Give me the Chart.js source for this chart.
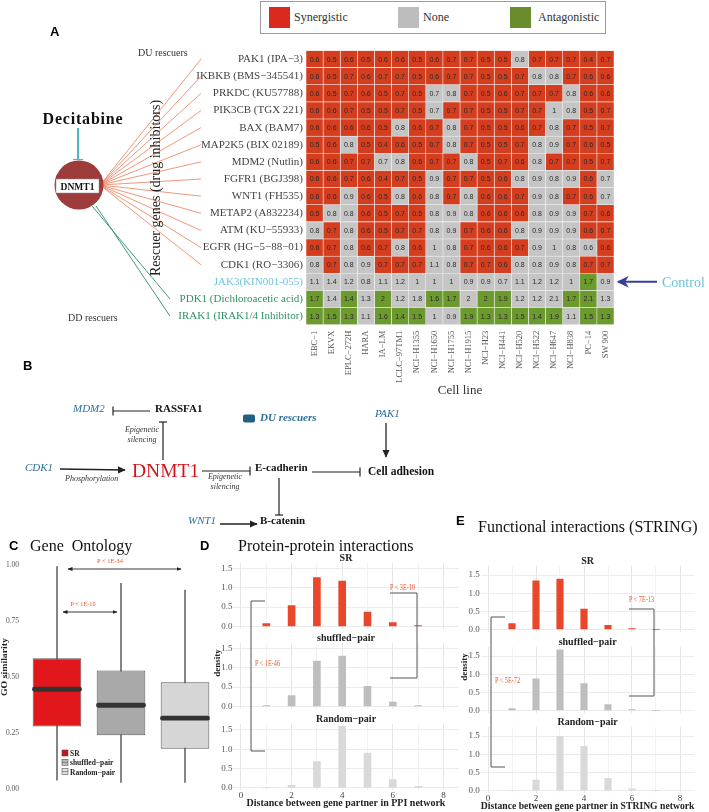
<!DOCTYPE html>
<html>
<head>
<meta charset="utf-8">
<title>DNMT1 rescuers</title>
<script src="https://cdn.jsdelivr.net/npm/chart.js@4.4.1/dist/chart.umd.min.js"></script>
<style>
  html, body { margin: 0; padding: 0; background: #fff; }
  #page { position: relative; width: 709px; height: 812px; overflow: hidden; font-family: "Liberation Serif", serif; }
  #page canvas { position: absolute; }
  #overlay { position: absolute; left: 0; top: 0; pointer-events: none; }
  #heatLegend { position: absolute; left: 260px; top: 1px; width: 346px; height: 33px; box-sizing: border-box; border: 1px solid #9c9c9c; background: #fff; }
  #heatLegend .key { position: absolute; top: 5px; width: 21px; height: 21px; }
  #heatLegend .lab { position: absolute; top: 8px; font-size: 12px; line-height: 14px; color: #333; }
</style>
</head>
<body>
<div id="page">
  <div id="heatLegend"></div>
  <canvas id="heatmap" width="709" height="403" style="left:0;top:0"></canvas>
  <canvas id="goBox" width="232" height="257" style="left:0;top:555px"></canvas>
  <canvas id="ppi0"></canvas>
  <canvas id="ppi1"></canvas>
  <canvas id="ppi2"></canvas>
  <canvas id="str0"></canvas>
  <canvas id="str1"></canvas>
  <canvas id="str2"></canvas>

  <svg id="overlay" width="709" height="812" viewBox="0 0 709 812" font-family="Liberation Serif, serif">
    <defs>
      <marker id="head" viewBox="0 0 10 10" refX="9" refY="5" markerUnits="userSpaceOnUse" markerWidth="8" markerHeight="8" orient="auto-start-reverse">
        <path d="M0,0.5 L10,5 L0,9.5 z" fill="#222"/>
      </marker>
      <marker id="headSmall" viewBox="0 0 10 10" refX="9" refY="5" markerUnits="userSpaceOnUse" markerWidth="5" markerHeight="5" orient="auto-start-reverse">
        <path d="M0,1 L10,5 L0,9 z" fill="#222"/>
      </marker>
      <marker id="headCtl" viewBox="0 0 10 10" refX="9" refY="5" markerUnits="userSpaceOnUse" markerWidth="12" markerHeight="12" orient="auto-start-reverse">
        <path d="M0,0 L10,5 L0,10 L3,5 z" fill="#3B3B98"/>
      </marker>
    </defs>

    <!-- panel A, network side -->
    <text x="50" y="36" font-family="Liberation Sans, Arial, sans-serif" font-weight="bold" font-size="13">A</text>
    <text x="138" y="56" font-size="10" fill="#333">DU rescuers</text>
    <text x="68" y="321" font-size="10" fill="#333">DD rescuers</text>
    <text x="83" y="124" text-anchor="middle" font-weight="bold" font-size="16" letter-spacing="0.8" fill="#111">Decitabine</text>
    <line x1="78" y1="128" x2="78" y2="159" stroke="#4FB5BE" stroke-width="2"/>
    <line x1="73" y1="159.5" x2="83" y2="159.5" stroke="#4FB5BE" stroke-width="1.2"/>
    <g id="fan"></g>
    <circle cx="79" cy="185" r="24.5" fill="#9E3C3C"/>
    <rect x="56" y="179" width="43" height="14" fill="#fff" stroke="#888" stroke-width="0.5"/>
    <text x="77.5" y="190" text-anchor="middle" font-weight="bold" font-size="9.5" fill="#111">DNMT1</text>
    <text transform="translate(160,188) rotate(-90)" text-anchor="middle" font-size="14" fill="#222">Rescuer genes (drug inhibitors)</text>
    <g id="control"></g>

    <!-- panel B -->
    <text x="23" y="370" font-family="Liberation Sans, Arial, sans-serif" font-weight="bold" font-size="13">B</text>
    <text x="73" y="412" font-style="italic" font-size="11" fill="#2D6F99">MDM2</text>
    <line x1="113" y1="411" x2="150" y2="411" stroke="#222" stroke-width="1.2"/>
    <line x1="113" y1="406.5" x2="113" y2="415.5" stroke="#222" stroke-width="1.2"/>
    <text x="155" y="412" font-weight="bold" font-size="11" fill="#111">RASSFA1</text>
    <line x1="163" y1="460" x2="163" y2="422" stroke="#222" stroke-width="1.2"/>
    <line x1="159" y1="422" x2="167" y2="422" stroke="#222" stroke-width="1.2"/>
    <text x="142" y="432" text-anchor="middle" font-style="italic" font-size="8" fill="#333">Epigenetic</text>
    <text x="142" y="442" text-anchor="middle" font-style="italic" font-size="8" fill="#333">silencing</text>
    <rect x="243" y="414.5" width="12" height="8" rx="2" fill="#1F5F80"/>
    <text x="260" y="421" font-style="italic" font-weight="bold" font-size="11" fill="#2D6F99">DU rescuers</text>
    <text x="375" y="417" font-style="italic" font-size="11" fill="#2D6F99">PAK1</text>
    <line x1="386" y1="423" x2="386" y2="457" stroke="#222" stroke-width="1.3" marker-end="url(#head)"/>
    <text x="25" y="471" font-style="italic" font-size="11" fill="#2D6F99">CDK1</text>
    <line x1="60" y1="469" x2="125" y2="470" stroke="#222" stroke-width="1.3" marker-end="url(#head)"/>
    <text x="65" y="481" font-style="italic" font-size="8" fill="#333">Phosphorylation</text>
    <text x="132" y="477" font-size="19.5" fill="#D4141A">DNMT1</text>
    <line x1="202" y1="471" x2="250" y2="471" stroke="#222" stroke-width="1.2"/>
    <line x1="250" y1="466.5" x2="250" y2="475.5" stroke="#222" stroke-width="1.2"/>
    <text x="225" y="479" text-anchor="middle" font-style="italic" font-size="8" fill="#333">Epigenetic</text>
    <text x="225" y="489" text-anchor="middle" font-style="italic" font-size="8" fill="#333">silencing</text>
    <text x="255" y="471" font-weight="bold" font-size="11" fill="#111">E-cadherin</text>
    <line x1="312" y1="472" x2="360" y2="472" stroke="#222" stroke-width="1.2"/>
    <line x1="360" y1="467.5" x2="360" y2="476.5" stroke="#222" stroke-width="1.2"/>
    <text x="368" y="475" font-weight="bold" font-size="11.5" fill="#111">Cell adhesion</text>
    <line x1="279" y1="478" x2="279" y2="515" stroke="#222" stroke-width="1.2"/>
    <line x1="275" y1="515" x2="283" y2="515" stroke="#222" stroke-width="1.2"/>
    <text x="188" y="524" font-style="italic" font-size="11" fill="#2D6F99">WNT1</text>
    <line x1="220" y1="524" x2="257" y2="524" stroke="#222" stroke-width="1.3" marker-end="url(#head)"/>
    <text x="260" y="524" font-weight="bold" font-size="11" fill="#111">B-catenin</text>

    <!-- panel titles -->
    <text x="9" y="550" font-family="Liberation Sans, Arial, sans-serif" font-weight="bold" font-size="13">C</text>
    <text x="30" y="551" font-size="16" fill="#111" xml:space="preserve">Gene  Ontology</text>
    <text x="200" y="550" font-family="Liberation Sans, Arial, sans-serif" font-weight="bold" font-size="13">D</text>
    <text x="238" y="551" font-size="16" fill="#111">Protein-protein interactions</text>
    <text x="456" y="525" font-family="Liberation Sans, Arial, sans-serif" font-weight="bold" font-size="13">E</text>
    <text x="478" y="532" font-size="16" fill="#111">Functional interactions (STRING)</text>

    <!-- panel C annotations -->
    <text transform="translate(7,667) rotate(-90)" text-anchor="middle" font-weight="bold" font-size="9" fill="#222" textLength="58" lengthAdjust="spacingAndGlyphs">GO similarity</text>
    <text x="110" y="563" text-anchor="middle" font-size="7" fill="#E4572E" textLength="26" lengthAdjust="spacingAndGlyphs">P &lt; 1E-34</text>
    <line x1="68" y1="569" x2="181" y2="569" stroke="#222" stroke-width="0.9" marker-start="url(#headSmall)" marker-end="url(#headSmall)"/>
    <text x="83" y="606" text-anchor="middle" font-size="7" fill="#E4572E" textLength="25" lengthAdjust="spacingAndGlyphs">P &lt; 1E-10</text>
    <line x1="63" y1="612" x2="117" y2="612" stroke="#222" stroke-width="0.9" marker-start="url(#headSmall)" marker-end="url(#headSmall)"/>
    <g id="goLegend" font-weight="bold" font-size="7.5" fill="#222"></g>

    <!-- panels D and E annotations -->
    <text transform="translate(220,663) rotate(-90)" text-anchor="middle" font-weight="bold" font-size="9" fill="#222">density</text>
    <text transform="translate(467,667) rotate(-90)" text-anchor="middle" font-weight="bold" font-size="9" fill="#222">density</text>
    <path d="M265,601 H251 V751 H265" fill="none" stroke="#555" stroke-width="1"/>
    <text x="267.5" y="666" text-anchor="middle" font-size="7.5" fill="#E4572E" textLength="25" lengthAdjust="spacingAndGlyphs">P &lt; 1E-46</text>
    <path d="M390,593 H417 V678 H390" fill="none" stroke="#555" stroke-width="1"/>
    <text x="402.5" y="590" text-anchor="middle" font-size="7.5" fill="#E4572E" textLength="25" lengthAdjust="spacingAndGlyphs">P &lt; 3E-10</text>
    <path d="M505,617 H491 V767 H505" fill="none" stroke="#555" stroke-width="1"/>
    <text x="507.5" y="683" text-anchor="middle" font-size="7.5" fill="#E4572E" textLength="25" lengthAdjust="spacingAndGlyphs">P &lt; 5E-72</text>
    <path d="M629,609 H654 V696 H629" fill="none" stroke="#555" stroke-width="1"/>
    <text x="641.5" y="602" text-anchor="middle" font-size="7.5" fill="#E4572E" textLength="25" lengthAdjust="spacingAndGlyphs">P &lt; 7E-13</text>
  </svg>
</div>

<script>
// ---- data ----
const cellLines = ['EBC−1', 'EKVX', 'EPLC−272H', 'HARA', 'IA−LM', 'LCLC−97TM1', 'NCI−H1355', 'NCI−H1650',
  'NCI−H1755', 'NCI−H1915', 'NCI−H23', 'NCI−H441', 'NCI−H520', 'NCI−H522', 'NCI−H647', 'NCI−H838', 'PC−14', 'SW 900'];

const rescuers = ['PAK1 (IPA−3)', 'IKBKB (BMS−345541)', 'PRKDC (KU57788)', 'PIK3CB (TGX 221)', 'BAX (BAM7)',
  'MAP2K5 (BIX 02189)', 'MDM2 (Nutlin)', 'FGFR1 (BGJ398)', 'WNT1 (FH535)', 'METAP2 (A832234)', 'ATM (KU−55933)',
  'EGFR (HG−5−88−01)', 'CDK1 (RO−3306)', 'JAK3(KIN001-055)', 'PDK1 (Dichloroacetic acid)', 'IRAK1 (IRAK1/4 Inhibitor)'];

// combination index, one row per rescuer, one column per cell line
const cellValues = [
  [0.6, 0.5, 0.6, 0.5, 0.6, 0.6, 0.5, 0.6, 0.7, 0.7, 0.5, 0.5, 0.8, 0.7, 0.7, 0.7, 0.4, 0.7],
  [0.6, 0.5, 0.7, 0.6, 0.7, 0.7, 0.5, 0.6, 0.7, 0.7, 0.5, 0.5, 0.7, 0.8, 0.8, 0.7, 0.6, 0.6],
  [0.6, 0.5, 0.7, 0.6, 0.5, 0.7, 0.5, 0.7, 0.8, 0.7, 0.5, 0.6, 0.7, 0.7, 0.7, 0.8, 0.6, 0.6],
  [0.6, 0.6, 0.7, 0.5, 0.5, 0.7, 0.5, 0.7, 0.7, 0.7, 0.5, 0.5, 0.7, 0.7, 1, 0.8, 0.5, 0.7],
  [0.6, 0.6, 0.6, 0.6, 0.5, 0.8, 0.6, 0.7, 0.8, 0.7, 0.5, 0.5, 0.6, 0.7, 0.8, 0.7, 0.5, 0.7],
  [0.5, 0.6, 0.8, 0.5, 0.4, 0.6, 0.5, 0.7, 0.8, 0.7, 0.5, 0.5, 0.7, 0.8, 0.9, 0.7, 0.6, 0.5],
  [0.6, 0.6, 0.7, 0.7, 0.7, 0.8, 0.6, 0.7, 0.7, 0.8, 0.5, 0.7, 0.6, 0.8, 0.7, 0.7, 0.5, 0.7],
  [0.6, 0.6, 0.7, 0.6, 0.4, 0.7, 0.5, 0.9, 0.7, 0.7, 0.5, 0.6, 0.8, 0.9, 0.8, 0.9, 0.6, 0.7],
  [0.6, 0.6, 0.9, 0.6, 0.5, 0.8, 0.6, 0.8, 0.7, 0.8, 0.6, 0.6, 0.7, 0.9, 0.8, 0.7, 0.6, 0.7],
  [0.5, 0.8, 0.8, 0.6, 0.5, 0.7, 0.5, 0.8, 0.9, 0.8, 0.6, 0.6, 0.6, 0.8, 0.9, 0.9, 0.7, 0.6],
  [0.8, 0.7, 0.8, 0.6, 0.5, 0.7, 0.7, 0.8, 0.9, 0.7, 0.6, 0.6, 0.8, 0.9, 0.9, 0.9, 0.6, 0.7],
  [0.6, 0.7, 0.8, 0.6, 0.7, 0.8, 0.6, 1, 0.8, 0.7, 0.6, 0.6, 0.7, 0.9, 1, 0.8, 0.6, 0.6],
  [0.8, 0.7, 0.8, 0.9, 0.7, 0.7, 0.7, 1.1, 0.8, 0.7, 0.7, 0.6, 0.8, 0.8, 0.9, 0.8, 0.7, 0.7],
  [1.1, 1.4, 1.2, 0.8, 1.1, 1.2, 1, 1, 1, 0.9, 0.9, 0.7, 1.1, 1.2, 1.2, 1, 1.7, 0.9],
  [1.7, 1.4, 1.4, 1.3, 2, 1.2, 1.8, 1.6, 1.7, 2, 2, 1.9, 1.2, 1.2, 2.1, 1.7, 2.1, 1.3],
  [1.3, 1.5, 1.3, 1.1, 1.6, 1.4, 1.5, 1, 0.9, 1.9, 1.3, 1.3, 1.5, 1.4, 1.9, 1.1, 1.5, 1.3]
];

// S = synergistic, N = none, A = antagonistic
const cellEffect = [
  'SSSSSSSSSSSSNSSSSS',
  'SSSSSSSSSSSSSNNSSS',
  'SSSSSSSNNSSSSSSNSS',
  'SSSSSSSNSSSSSSNNSS',
  'SSSSSNSSNSSSSSNSSS',
  'SSNSSSSSNSSSSNNSSS',
  'SSSSNNSSSNSSSNSSSS',
  'SSSSSSSNSSSSNNNNSN',
  'SSNSSNSNSNSSSNNSSN',
  'SNNSSSSNNNSSSNNNSS',
  'NSNSSSSNNSSSNNNNSS',
  'SSNSSNSNNSSSSNNNNS',
  'NSNNSSSNNSSSNNNNSS',
  'NNNNNNNNNNNNNNNNAN',
  'ANANANNAANAANNNAAN',
  'AAANAAANNAAAAAANAA'
];
const effectNames = ['Synergistic', 'None', 'Antagonistic'];

// gene ontology similarity box plots
const goGroups = ['SR', 'shuffled−pair', 'Random−pair'];
const goLow = [0.04, 0.03, 0.03];
const goQ1 = [0.28, 0.24, 0.18];
const goMedian = [0.446, 0.375, 0.317];
const goQ3 = [0.585, 0.53, 0.478];
const goHigh = [0.995, 0.92, 0.89];
const goTicks = [0, 0.25, 0.5, 0.75, 1];

// distance histograms (density)
const distances = [1, 2, 3, 4, 5, 6, 7];
const ppiSR = [0.07, 0.54, 1.27, 1.18, 0.37, 0.10, 0.02];
const ppiShuffled = [0.02, 0.28, 1.18, 1.31, 0.52, 0.11, 0.02];
const ppiRandom = [0, 0.07, 0.68, 1.59, 0.90, 0.22, 0.04];
const stringSR = [0.16, 1.34, 1.39, 0.56, 0.11, 0.02, 0];
const stringShuffled = [0.05, 0.87, 1.67, 0.74, 0.16, 0.02, 0];
const stringRandom = [0, 0.29, 1.49, 1.22, 0.34, 0.05, 0.01];
const densityTicks = [0, 0.5, 1.0, 1.5];
const distanceTicks = [0, 2, 4, 6, 8];
const facetNames = ['SR', 'shuffled−pair', 'Random−pair'];

// ---- styling ----
const SERIF = '"Liberation Serif", "DejaVu Serif", serif';
const SANS = '"Liberation Sans", Arial, sans-serif';
const effectColor = { S: '#D53D1F', N: '#C5C5C5', A: '#6D9A2F' };
const legendColor = ['#DA2A1E', '#BDBDBD', '#6A8C2C'];
const facetColors = ['#E8472C', '#BEBEBE', '#D9D9D9'];
const SVGNS = 'http://www.w3.org/2000/svg';

function svgEl(parent, tag, attrs, text) {
  const el = document.createElementNS(SVGNS, tag);
  Object.keys(attrs).forEach(k => el.setAttribute(k, attrs[k]));
  if (text) el.textContent = text;
  parent.appendChild(el);
  return el;
}

function rowLabelColor(r) {
  const name = rescuers[r] || '';
  if (name.startsWith('JAK3')) return '#6EC3DC';
  if (name.startsWith('PDK1') || name.startsWith('IRAK1')) return '#2E9360';
  return '#444';
}

// ---- heatmap legend ----
function buildHeatLegend() {
  const box = document.getElementById('heatLegend');
  const keyX = [8, 137, 249];
  const labX = [33, 162, 277];
  effectNames.forEach((name, i) => {
    const key = document.createElement('div');
    key.className = 'key';
    key.style.left = keyX[i] + 'px';
    key.style.background = legendColor[i];
    box.appendChild(key);
    const lab = document.createElement('div');
    lab.className = 'lab';
    lab.style.left = labX[i] + 'px';
    lab.textContent = name;
    box.appendChild(lab);
  });
}

// ---- heatmap ----
const cellText = {
  id: 'cellText',
  afterDatasetsDraw(chart) {
    const ctx = chart.ctx;
    ctx.save();
    ctx.font = '7px ' + SANS;
    ctx.fillStyle = '#2a2a2a';
    ctx.textAlign = 'center';
    ctx.textBaseline = 'middle';
    chart.data.datasets.forEach((ds, c) => {
      chart.getDatasetMeta(c).data.forEach((bar, r) => {
        ctx.fillText(String(cellValues[r][c]), (bar.x + bar.base) / 2, bar.y + 0.5);
      });
    });
    ctx.restore();
  }
};

function loadHeatmap() {
  const datasets = cellLines.map((line, c) => ({
    label: line,
    data: rescuers.map(() => 1),
    backgroundColor: rescuers.map((_, r) => effectColor[cellEffect[r][c]]),
    borderColor: '#f4f4f4',
    borderWidth: 0.6,
    borderSkipped: false,
    barPercentage: 1,
    categoryPercentage: 1
  }));

  return new Chart(document.getElementById('heatmap'), {
    type: 'bar',
    data: { labels: rescuers, datasets: datasets },
    options: {
      indexAxis: 'y',
      responsive: false,
      animation: false,
      layout: { padding: { top: 50.5, right: 95, left: 0, bottom: 0 } },
      plugins: { legend: { display: false }, tooltip: { enabled: false } },
      scales: {
        y: {
          type: 'category',
          stacked: true,
          grid: { display: false, drawTicks: false },
          border: { display: false },
          ticks: {
            autoSkip: false,
            padding: 3,
            font: { family: SERIF, size: 11 },
            color: ctx => rowLabelColor(ctx.index)
          },
          afterFit: axis => { axis.width = 306; }
        },
        x: {
          type: 'linear',
          stacked: true,
          min: 0,
          max: cellLines.length,
          grid: { display: false, drawTicks: false },
          border: { display: false },
          afterBuildTicks: axis => { axis.ticks = cellLines.map((_, i) => ({ value: i + 0.5 })); },
          ticks: {
            autoSkip: false,
            minRotation: 90,
            maxRotation: 90,
            padding: 6,
            font: { family: SERIF, size: 8.5 },
            color: '#555',
            callback: (v, i) => cellLines[i]
          },
          title: {
            display: true,
            text: 'Cell line',
            font: { family: SERIF, size: 13 },
            color: '#333',
            padding: { top: 0, bottom: 5 }
          },
          afterFit: axis => { axis.height = 78.3; }
        }
      }
    },
    plugins: [cellText]
  });
}

function drawNetwork(chart) {
  const yScale = chart.scales.y;
  const fan = document.getElementById('fan');
  rescuers.forEach((name, r) => {
    const y = yScale.getPixelForValue(r);
    if (rowLabelColor(r) === '#444') {
      svgEl(fan, 'line', { x1: 100, y1: 185, x2: 201, y2: y, stroke: '#EE8B6B', 'stroke-width': 0.9 });
    } else if (rowLabelColor(r) === '#2E9360') {
      const sx = r === 14 ? 92 : 96;
      svgEl(fan, 'line', { x1: sx, y1: 206, x2: 170, y2: y, stroke: '#2E8E68', 'stroke-width': 0.9 });
    } else {
      const ctl = document.getElementById('control');
      svgEl(ctl, 'line', { x1: 657, y1: y, x2: 618, y2: y, stroke: '#3B3B98', 'stroke-width': 2, 'marker-end': 'url(#headCtl)' });
      svgEl(ctl, 'text', { x: 662, y: y + 5, 'font-size': 14, fill: '#6EC3DC' }, 'Control');
    }
  });
}

// ---- gene ontology box plot ----
function loadBoxPlot() {
  const boxColors = ['#E2171C', '#A9A9A9', '#D6D6D6'];
  return new Chart(document.getElementById('goBox'), {
    type: 'bar',
    data: {
      labels: goGroups,
      datasets: [
        {
          data: goGroups.map((g, i) => [goLow[i], goHigh[i]]),
          backgroundColor: '#6b6b6b',
          barThickness: 1,
          grouped: false,
          order: 3
        },
        {
          data: goGroups.map((g, i) => [goQ1[i], goQ3[i]]),
          backgroundColor: boxColors,
          borderColor: '#5a5a5a',
          borderWidth: 1,
          borderSkipped: false,
          barPercentage: 0.76,
          categoryPercentage: 1,
          grouped: false,
          order: 2
        },
        {
          data: goGroups.map((g, i) => [goMedian[i] - 0.011, goMedian[i] + 0.011]),
          backgroundColor: '#333',
          borderRadius: 3,
          borderSkipped: false,
          barPercentage: 0.78,
          categoryPercentage: 1,
          grouped: false,
          order: 1
        }
      ]
    },
    options: {
      responsive: false,
      animation: false,
      layout: { padding: { top: 10, right: 15, bottom: 23, left: 0 } },
      plugins: { legend: { display: false }, tooltip: { enabled: false } },
      scales: {
        x: { display: false },
        y: {
          min: 0,
          max: 1,
          grid: { display: false, drawTicks: false },
          border: { display: false },
          afterBuildTicks: axis => { axis.ticks = goTicks.map(v => ({ value: v })); },
          ticks: {
            padding: 6,
            font: { family: SERIF, size: 7.5 },
            color: '#555',
            callback: v => v.toFixed(2)
          },
          afterFit: axis => { axis.width = 25; }
        }
      }
    }
  });
}

function buildGoLegend() {
  const g = document.getElementById('goLegend');
  const fills = ['#C0171C', '#BDBDBD', '#E2E2E2'];
  goGroups.forEach((name, i) => {
    const y = 750 + i * 9.3;
    svgEl(g, 'rect', { x: 62, y: y, width: 6, height: 6, fill: fills[i], stroke: '#555', 'stroke-width': 0.6 });
    if (i > 0) svgEl(g, 'line', { x1: 62, y1: y + 3, x2: 68, y2: y + 3, stroke: '#555', 'stroke-width': 0.6 });
    svgEl(g, 'text', { x: 70, y: y + 6 }, name);
  });
}

// ---- faceted distance histograms ----
function loadFacet(canvasId, geom, k, values) {
  const zero = geom.zeros[k];
  const isBottom = k === 2;
  const chartTop = zero - geom.yMax * geom.ppu;
  const chartBottom = zero - geom.yMin * geom.ppu;
  const chartLeft = geom.zeroX + geom.xMin * geom.ppx;
  const chartRight = geom.zeroX + geom.xMax * geom.ppx;
  const top = Math.round(chartTop - 11);
  const height = isBottom ? 812 - top : Math.round(chartBottom + 6 - top);
  const width = Math.round(chartRight + 4 - geom.canvasLeft);

  const cv = document.getElementById(canvasId);
  cv.width = width;
  cv.height = height;
  cv.style.left = geom.canvasLeft + 'px';
  cv.style.top = top + 'px';

  const gridSteps = [];
  for (let v = 0; v <= distanceTicks[distanceTicks.length - 1]; v++) gridSteps.push(v);

  return new Chart(cv, {
    type: 'bar',
    data: {
      datasets: [{
        data: distances.map((d, i) => ({ x: d, y: values[i] })),
        backgroundColor: facetColors[k],
        barThickness: geom.barW
      }]
    },
    options: {
      responsive: false,
      animation: false,
      layout: {
        padding: {
          top: 0,
          left: 0,
          right: width - (chartRight - geom.canvasLeft),
          bottom: isBottom ? 0 : height - (chartBottom - top)
        }
      },
      plugins: {
        legend: { display: false },
        tooltip: { enabled: false },
        title: {
          display: true,
          text: facetNames[k],
          fullSize: false,
          color: '#222',
          font: { family: SERIF, size: 10, weight: 'bold', lineHeight: 1 },
          padding: { top: 1, bottom: 0 }
        }
      },
      scales: {
        x: {
          type: 'linear',
          min: geom.xMin,
          max: geom.xMax,
          offset: false,
          grid: {
            offset: false,
            drawTicks: false,
            color: ctx => (ctx.tick && ctx.tick.value % 2 === 0) ? '#E6E6E6' : '#F2F2F2'
          },
          border: { display: false },
          afterBuildTicks: axis => { axis.ticks = gridSteps.map(v => ({ value: v })); },
          ticks: {
            display: isBottom,
            autoSkip: false,
            maxRotation: 0,
            padding: 0,
            font: { family: SERIF, size: 9 },
            color: '#444',
            callback: v => distanceTicks.includes(v) ? String(v) : ''
          },
          title: {
            display: isBottom,
            text: geom.title,
            color: '#222',
            font: { family: SERIF, size: 10, weight: 'bold' },
            padding: { top: 0, bottom: geom.titlePad }
          },
          afterFit: axis => { axis.height = isBottom ? height - (chartBottom - top) : 0; }
        },
        y: {
          min: geom.yMin,
          max: geom.yMax,
          grid: { color: '#EBEBEB', drawTicks: false },
          border: { display: false },
          afterBuildTicks: axis => { axis.ticks = densityTicks.map(v => ({ value: v })); },
          ticks: {
            padding: 1,
            font: { family: SERIF, size: 9 },
            color: '#555',
            callback: v => v.toFixed(1)
          },
          afterFit: axis => { axis.width = chartLeft - geom.canvasLeft; }
        }
      }
    }
  });
}

const ppiGeom = {
  canvasLeft: 205, zeroX: 241, ppx: 25.3, xMin: -0.3, xMax: 8.6,
  zeros: [626.5, 707, 788], ppu: 38.7, yMin: -0.06, yMax: 1.65, barW: 7,
  title: 'Distance between gene partner in PPI network', titlePad: 2.7
};
const stringGeom = {
  canvasLeft: 452, zeroX: 488, ppx: 24, xMin: -0.3, xMax: 8.6,
  zeros: [630, 710.7, 790.7], ppu: 36.5, yMin: -0.06, yMax: 1.75, barW: 6.5,
  title: 'Distance between gene partner in STRING network', titlePad: 0
};

function loadAll() {
  buildHeatLegend();
  const heat = loadHeatmap();
  drawNetwork(heat);
  loadBoxPlot();
  buildGoLegend();
  [ppiSR, ppiShuffled, ppiRandom].forEach((vals, k) => loadFacet('ppi' + k, ppiGeom, k, vals));
  [stringSR, stringShuffled, stringRandom].forEach((vals, k) => loadFacet('str' + k, stringGeom, k, vals));
}

document.addEventListener('DOMContentLoaded', loadAll);
</script>
</body>
</html>
